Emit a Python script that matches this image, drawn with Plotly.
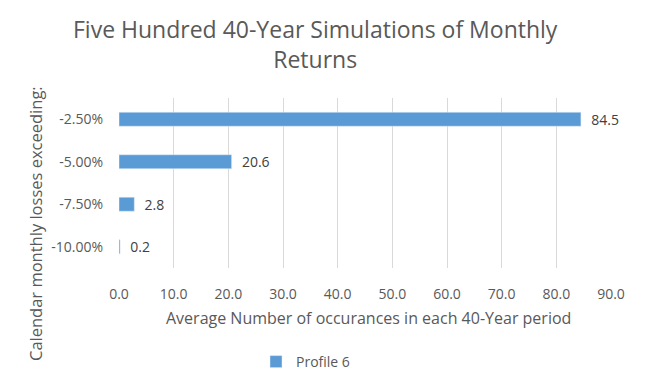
import plotly.graph_objects as go

categories = ["-2.50%", "-5.00%", "-7.50%", "-10.00%"]
values = [84.5, 20.6, 2.8, 0.2]
value_labels = ["84.5", "20.6", "2.8", "0.2"]
x_ticks = [0, 10, 20, 30, 40, 50, 60, 70, 80, 90]
x_tick_labels = ["0.0", "10.0", "20.0", "30.0", "40.0", "50.0", "60.0", "70.0", "80.0", "90.0"]

FONT = "Open Sans, Lato, sans-serif"
GREY = "#595959"

# page body has an 8px default margin; plot area in screen px:
OFF = 8
X0, X1, Y0, Y1 = 119, 611, 98, 268


def px(x):
    return (x - X0) / (X1 - X0)


def py(y):
    return (Y1 - y) / (Y1 - Y0)


fig = go.Figure()
fig.add_trace(go.Bar(
    y=categories, x=values, orientation="h", name="Profile 6",
    marker=dict(color="#5B9BD5"), width=0.33,
    text=value_labels, texttemplate="\u00a0\u00a0%{text}",
    textposition="outside", cliponaxis=False, constraintext="none",
    textfont=dict(family=FONT, size=14, color="#404040"),
))

fig.update_layout(
    width=650, height=390,
    margin=dict(l=X0 - OFF, r=650 - (X1 - OFF), t=Y0 - OFF, b=390 - (Y1 - OFF)),
    paper_bgcolor="white", plot_bgcolor="white",
    font=dict(family=FONT, color=GREY, size=13),
    showlegend=True,
    legend=dict(orientation="h", x=px(256), xanchor="left", y=py(362), yanchor="middle",
                font=dict(size=14, color=GREY), itemwidth=30),
    xaxis=dict(range=[0, 90], tickvals=x_ticks, ticktext=x_tick_labels, automargin=False,
               showgrid=True, gridcolor="#D9D9D9", gridwidth=1, zeroline=False,
               showline=False, ticks="", ticklabelstandoff=16, tickfont=dict(size=14, color=GREY)),
    yaxis=dict(categoryorder="array", categoryarray=categories[::-1], automargin=False,
               showgrid=False, showline=False, ticks="", ticklen=0, ticklabelstandoff=15,
               tickfont=dict(size=14, color=GREY)),
    annotations=[
        dict(text="Five Hundred 40-Year Simulations of Monthly<br>Returns",
             xref="paper", yref="paper", x=px(315), y=py(44),
             xanchor="center", yanchor="middle", showarrow=False,
             font=dict(size=23, color=GREY, family=FONT)),
        dict(text="Average Number of occurances in each 40-Year period",
             xref="paper", yref="paper", x=px(368), y=py(318),
             xanchor="center", yanchor="middle", showarrow=False,
             font=dict(size=16, color=GREY, family=FONT)),
        dict(text="Calendar monthly losses exceeding:", textangle=-90,
             xref="paper", yref="paper", x=px(35), y=py(224),
             xanchor="center", yanchor="middle", showarrow=False,
             font=dict(size=16.5, color=GREY, family=FONT)),
    ],
)

fig.write_html("out.html")
